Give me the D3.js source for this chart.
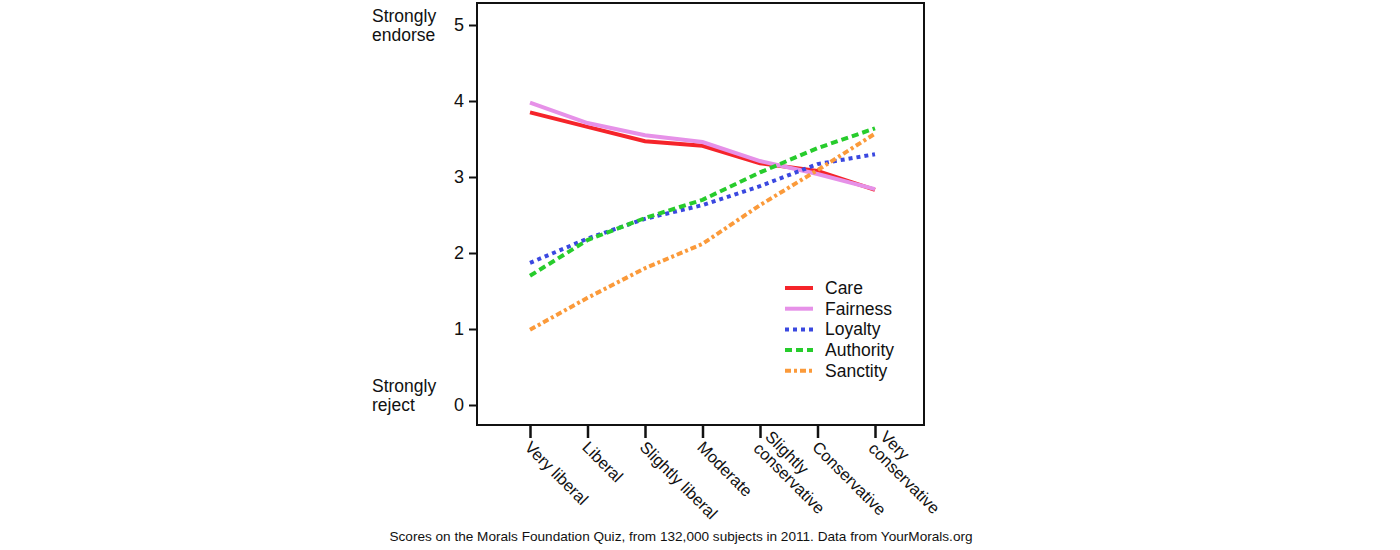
<!DOCTYPE html>
<html><head><meta charset="utf-8">
<script src="https://cdn.jsdelivr.net/npm/d3@7"></script>
<style>
body{margin:0;background:#fff;}
svg{display:block;font-family:"Liberation Sans",Arial,Helvetica,sans-serif;}
</style></head>
<body><svg id="c" width="1400" height="550"></svg>
<script>
const categories = ["Very liberal","Liberal","Slightly liberal","Moderate","Slightly conservative","Conservative","Very conservative"];
const categoryLines = [["Very liberal"],["Liberal"],["Slightly liberal"],["Moderate"],["Slightly","conservative"],["Conservative"],["Very","conservative"]];
const care      = [3.85, 3.66, 3.47, 3.41, 3.18, 3.08, 2.83];
const fairness  = [3.98, 3.71, 3.55, 3.46, 3.21, 3.04, 2.84];
const loyalty   = [1.87, 2.19, 2.45, 2.63, 2.88, 3.17, 3.30];
const authority = [1.70, 2.17, 2.46, 2.70, 3.06, 3.38, 3.64];
const sanctity  = [0.99, 1.41, 1.80, 2.12, 2.63, 3.09, 3.57];
const yTicks = [0,1,2,3,4,5];
const seriesNames = ["Care","Fairness","Loyalty","Authority","Sanctity"];
const caption = "Scores on the Morals Foundation Quiz, from 132,000 subjects in 2011. Data from YourMorals.org";

const seriesData = [care, fairness, loyalty, authority, sanctity];
const styles = [
  {color:"#f5242a", dash:null},
  {color:"#e691e8", dash:null},
  {color:"#3a48e0", dash:"4,4"},
  {color:"#27cc2c", dash:"7,4"},
  {color:"#fb9a3a", dash:"6,3,3,3"}
];

const svg = d3.select("#c");
const box = {left:477, right:924, top:3, bottom:425};
const x = d3.scalePoint().domain(categories).range([530, 875]);
const y = d3.scaleLinear().domain([0,5]).range([405, 25]);

// frame
svg.append("rect").attr("x",box.left).attr("y",box.top)
  .attr("width",box.right-box.left).attr("height",box.bottom-box.top)
  .attr("fill","none").attr("stroke","#111").attr("stroke-width",2);

// y axis
const yAx = svg.append("g").attr("transform",`translate(${box.left},0)`)
  .call(d3.axisLeft(y).tickValues(yTicks).tickFormat(d3.format("d")).tickSize(8).tickPadding(5));
yAx.select(".domain").remove();
yAx.selectAll("line").attr("stroke","#111").attr("stroke-width",2);
yAx.selectAll("text").attr("font-size",18).attr("fill","#111")
  .attr("font-family","Liberation Sans,Arial,sans-serif");

// x axis
const xAx = svg.append("g").attr("transform",`translate(0,${box.bottom})`)
  .call(d3.axisBottom(x).tickSize(13).tickFormat(""));
xAx.select(".domain").remove();
xAx.selectAll("line").attr("stroke","#111").attr("stroke-width",2.5);

categories.forEach((c,i)=>{
  const multi = categoryLines[i].length>1;
  const t = svg.append("text")
    .attr("transform",`translate(${x(c)+3},${box.bottom+14}) rotate(45)` + (multi ? " translate(0,-15)" : ""))
    .attr("font-size",16.5).attr("fill","#111");
  categoryLines[i].forEach((ln,j)=>{
    t.append("tspan").attr("x",0).attr("dy", j===0 ? "0.8em" : "1.0em").text(ln);
  });
});

// y side labels
[["Strongly","endorse",22],["Strongly","reject",392]].forEach(([a,b,yy])=>{
  const t = svg.append("text").attr("x",372).attr("y",yy).attr("font-size",17.5).attr("fill","#111");
  t.append("tspan").attr("x",372).text(a);
  t.append("tspan").attr("x",372).attr("dy",19).text(b);
});

// lines
const line = d3.line().x((d,i)=>x(categories[i])).y(d=>y(d));
seriesData.forEach((s,k)=>{
  svg.append("path").datum(s).attr("d",line)
    .attr("fill","none").attr("stroke",styles[k].color).attr("stroke-width",4)
    .attr("stroke-dasharray",styles[k].dash);
});

// legend
seriesNames.forEach((n,k)=>{
  const yy = 288 + k*20.7;
  svg.append("line").attr("x1",785).attr("x2",813).attr("y1",yy).attr("y2",yy)
    .attr("stroke",styles[k].color).attr("stroke-width",4).attr("stroke-dasharray",styles[k].dash);
  svg.append("text").attr("x",825).attr("y",yy+6).attr("font-size",17.5).attr("fill","#111").text(n);
});

// caption
svg.append("text").attr("x",681).attr("y",541).attr("text-anchor","middle")
  .attr("font-size",13.6).attr("fill","#111").text(caption);
</script></body></html>
